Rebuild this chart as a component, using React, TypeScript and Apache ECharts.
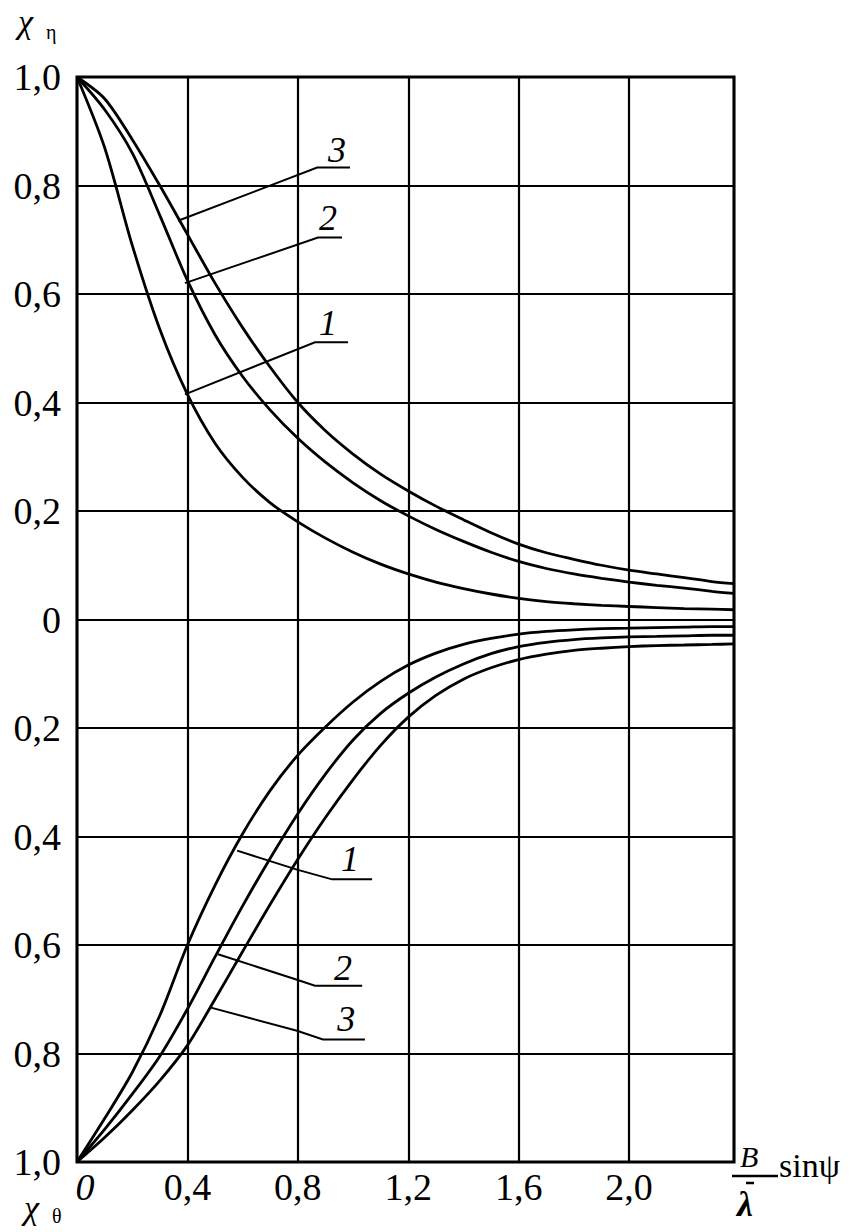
import React, { useEffect, useRef } from 'react';
import * as echarts from 'echarts';

// x positions (B/λ · sinψ) at which the curves are read
const xs = [0, 0.1, 0.2, 0.3, 0.4, 0.5, 0.6, 0.7, 0.8, 0.9, 1.0, 1.1, 1.2, 1.3, 1.4, 1.5, 1.6, 1.7, 1.8, 1.9, 2.0, 2.1, 2.2, 2.3, 2.38];

// upper family χη (curves 1, 2, 3)
const chiEta1 = [1.0, 0.87, 0.69, 0.535, 0.415, 0.325, 0.262, 0.215, 0.18, 0.15, 0.124, 0.102, 0.084, 0.069, 0.057, 0.047, 0.039, 0.033, 0.029, 0.026, 0.024, 0.022, 0.02, 0.019, 0.018];
const chiEta2 = [1.0, 0.94, 0.86, 0.745, 0.625, 0.525, 0.448, 0.386, 0.334, 0.29, 0.252, 0.219, 0.191, 0.166, 0.144, 0.124, 0.107, 0.094, 0.084, 0.076, 0.069, 0.063, 0.058, 0.052, 0.048];
const chiEta3 = [1.0, 0.96, 0.885, 0.8, 0.71, 0.62, 0.538, 0.465, 0.4, 0.348, 0.305, 0.268, 0.237, 0.209, 0.184, 0.16, 0.139, 0.123, 0.111, 0.1, 0.091, 0.084, 0.077, 0.07, 0.066];

// lower family χθ (magnitudes, drawn downward)
const chiTheta1 = [1.0, 0.92, 0.835, 0.73, 0.6, 0.49, 0.395, 0.315, 0.25, 0.198, 0.152, 0.114, 0.084, 0.062, 0.046, 0.035, 0.027, 0.022, 0.019, 0.017, 0.016, 0.015, 0.014, 0.013, 0.013];
const chiTheta2 = [1.0, 0.94, 0.875, 0.805, 0.718, 0.622, 0.528, 0.44, 0.358, 0.285, 0.222, 0.173, 0.136, 0.106, 0.082, 0.063, 0.05, 0.042, 0.037, 0.034, 0.032, 0.031, 0.03, 0.029, 0.029];
const chiTheta3 = [1.0, 0.955, 0.905, 0.85, 0.785, 0.7, 0.612, 0.525, 0.442, 0.365, 0.295, 0.232, 0.18, 0.14, 0.11, 0.089, 0.074, 0.064, 0.057, 0.053, 0.05, 0.048, 0.047, 0.046, 0.045];

// leader lines (data coordinates) and label anchors
const leaderEta1 = [[0.391, 0.415], [0.862, 0.511], [0.982, 0.511]];
const leaderEta2 = [[0.391, 0.62], [0.873, 0.704], [0.96, 0.704]];
const leaderEta3 = [[0.366, 0.735], [0.87, 0.833], [0.989, 0.833]];
const leaderTheta1 = [[0.58, -0.426], [0.797, -0.461], [0.924, -0.479], [1.069, -0.479]];
const leaderTheta2 = [[0.511, -0.617], [0.797, -0.664], [0.862, -0.675], [1.033, -0.675]];
const leaderTheta3 = [[0.482, -0.715], [0.797, -0.758], [0.891, -0.774], [1.043, -0.774]];
const labelNames = ['1', '2', '3', '1', '2', '3'];
const labelAnchors = [[0.909, 0.546], [0.909, 0.741], [0.942, 0.865], [0.989, -0.442], [0.964, -0.643], [0.975, -0.737]];

const FONT = 'Liberation Serif, DejaVu Serif, serif';

export default function App() {
  const ref = useRef<HTMLDivElement>(null);
  useEffect(() => {
    const chart = echarts.init(ref.current!, null, { renderer: 'svg' });
    const mk = (ys: number[], sign: number) => xs.map((x, i) => [x, sign * ys[i]]);
    const line = (name: string, data: number[][]) => ({
      type: 'line', name, data, smooth: 0.3, symbol: 'none', showSymbol: false, silent: true, z: 3,
      lineStyle: { color: '#000', width: 2.8 },
    });
    const fmt = (v: number) => (Math.abs(v) < 1e-9 ? '0' : Math.abs(v).toFixed(1).replace('.', ','));
    chart.setOption({
      animation: false,
      backgroundColor: '#fff',
      grid: { left: 77, right: 124, top: 77, bottom: 70, show: true, borderColor: '#000', borderWidth: 3, backgroundColor: 'transparent' },
      xAxis: {
        type: 'value', min: 0, max: 2.38, interval: 0.4,
        axisLine: { show: false }, axisTick: { show: false },
        splitLine: { show: true, lineStyle: { color: '#000', width: 2.2 } },
        axisLabel: {
          margin: 6, fontFamily: FONT, fontSize: 38, color: '#000', showMaxLabel: false,
          formatter: (v: number) => (v > 2.1 ? '' : v === 0 ? '{i|0}' : '{n|' + fmt(v) + '}'),
          rich: {
            i: { fontFamily: FONT, fontSize: 38, fontStyle: 'italic', color: '#000', padding: [0, 0, 0, 16] },
            n: { fontFamily: FONT, fontSize: 38, color: '#000' },
          },
        },
      },
      yAxis: {
        type: 'value', min: -1, max: 1, interval: 0.2,
        axisLine: { show: false }, axisTick: { show: false },
        splitLine: { show: true, lineStyle: { color: '#000', width: 2.2 } },
        axisLabel: {
          margin: 16, fontFamily: FONT, fontSize: 38, color: '#000',
          formatter: (v: number) => '{n|' + fmt(v) + '}',
          rich: { n: { fontFamily: FONT, fontSize: 38, color: '#000' } },
        },
      },
      series: [
        line('χη 1', mk(chiEta1, 1)),
        line('χη 2', mk(chiEta2, 1)),
        line('χη 3', mk(chiEta3, 1)),
        line('χθ 1', mk(chiTheta1, -1)),
        line('χθ 2', mk(chiTheta2, -1)),
        line('χθ 3', mk(chiTheta3, -1)),
      ],
    });

    const P = (p: number[]) => chart.convertToPixel({ gridIndex: 0 }, p) as number[];
    const graphics: any[] = [];
    [leaderEta1, leaderEta2, leaderEta3, leaderTheta1, leaderTheta2, leaderTheta3].forEach((pts) => {
      graphics.push({ type: 'polyline', z: 10, shape: { points: pts.map(P) }, style: { stroke: '#000', lineWidth: 2, fill: null } });
    });
    labelAnchors.forEach((a, i) => {
      const [x, y] = P(a);
      graphics.push({
        type: 'text', z: 10, x, y,
        style: { text: labelNames[i], font: `italic 36px ${FONT}`, fill: '#000', align: 'center', verticalAlign: 'middle' },
      });
    });
    // axis names
    graphics.push({ type: 'text', x: 18, y: 4, style: { text: 'χ', font: `italic 34px ${FONT}`, fill: '#000' } });
    graphics.push({ type: 'text', x: 46, y: 22, style: { text: 'η', font: `20px ${FONT}`, fill: '#000' } });
    graphics.push({ type: 'text', x: 24, y: 1190, style: { text: 'χ', font: `italic 34px ${FONT}`, fill: '#000' } });
    graphics.push({ type: 'text', x: 52, y: 1206, style: { text: 'θ', font: `20px ${FONT}`, fill: '#000' } });
    // x-axis title: B / λ̄ · sinψ
    graphics.push({ type: 'text', x: 740, y: 1141, style: { text: 'B', font: `italic 30px ${FONT}`, fill: '#000' } });
    graphics.push({ type: 'line', shape: { x1: 732, y1: 1176, x2: 778, y2: 1176 }, style: { stroke: '#000', lineWidth: 2.5 } });
    graphics.push({ type: 'line', shape: { x1: 746, y1: 1183, x2: 754, y2: 1183 }, style: { stroke: '#000', lineWidth: 2.5 } });
    graphics.push({ type: 'text', x: 737, y: 1186, style: { text: 'λ', font: `bold italic 36px ${FONT}`, fill: '#000' } });
    graphics.push({ type: 'text', x: 779, y: 1148, style: { text: 'sinψ', font: `34px ${FONT}`, fill: '#000' } });
    chart.setOption({ graphic: graphics });

    return () => chart.dispose();
  }, []);
  return <div ref={ref} style={{ position: 'absolute', left: 0, top: 0, width: 858, height: 1232, background: '#fff' }} />;
}
